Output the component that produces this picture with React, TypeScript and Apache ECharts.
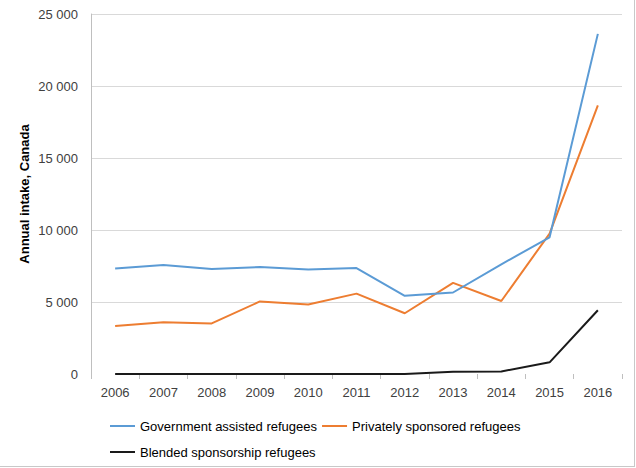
import React, { useEffect, useRef } from "react";
import * as echarts from "echarts";

const years = ["2006", "2007", "2008", "2009", "2010", "2011", "2012", "2013", "2014", "2015", "2016"];
const governmentAssisted = [7330, 7570, 7300, 7430, 7260, 7360, 5430, 5660, 7620, 9490, 23620];
const privatelySponsored = [3340, 3590, 3510, 5040, 4830, 5580, 4220, 6330, 5070, 9750, 18650];
const blendedSponsorship = [0, 0, 0, 0, 0, 0, 0, 150, 180, 810, 4430];
const seriesNames = ["Government assisted refugees", "Privately sponsored refugees", "Blended sponsorship refugees"];

const FONT = "Liberation Sans";

function fmt(v: number): string {
  return String(v).replace(/\B(?=(\d{3})+(?!\d))/g, " ");
}

export default function App() {
  const ref = useRef<HTMLDivElement>(null);
  useEffect(() => {
    if (!ref.current) return;
    const chart = echarts.init(ref.current, undefined, { renderer: "svg" });
    const legendBase = {
      left: 105,
      orient: "horizontal",
      icon: "rect",
      itemWidth: 25,
      itemHeight: 2,
      itemGap: 5,
      textStyle: { color: "#000000", fontSize: 13, fontFamily: FONT },
    };
    chart.setOption({
      animation: false,
      backgroundColor: "#ffffff",
      textStyle: { fontFamily: FONT },
      grid: { left: 91, right: 14, top: 14, bottom: 94, containLabel: false },
      xAxis: {
        type: "category",
        data: years,
        boundaryGap: true,
        axisLine: { show: false },
        axisTick: { show: true, length: 5, lineStyle: { color: "#bfbfbf", width: 1 } },
        axisLabel: { color: "#404040", fontSize: 13, fontFamily: FONT, margin: 12 },
        splitLine: { show: false },
      },
      yAxis: {
        type: "value",
        min: 0,
        max: 25000,
        interval: 5000,
        name: "Annual intake, Canada",
        nameLocation: "middle",
        nameGap: 60,
        nameMoveOverlap: false,
        nameTextStyle: { color: "#000000", fontSize: 13, fontWeight: "bold", fontFamily: FONT },
        axisLine: { show: true, lineStyle: { color: "#bfbfbf", width: 1 } },
        axisTick: { show: false },
        axisLabel: { color: "#404040", fontSize: 13, fontFamily: FONT, margin: 13, formatter: (v: number) => fmt(v) },
        splitLine: { show: true, lineStyle: { color: ["transparent", "#d9d9d9", "#d9d9d9", "#d9d9d9", "#d9d9d9", "#d9d9d9"], width: 1 } },
      },
      legend: [
        { ...legendBase, data: [seriesNames[0], seriesNames[1]], top: 414.5 },
        { ...legendBase, data: [seriesNames[2]], top: 440.5 },
      ],
      graphic: [
        { type: "line", shape: { x1: 634.5, y1: 0, x2: 634.5, y2: 467 }, style: { stroke: "#c8c8c8", lineWidth: 1 } },
        { type: "line", shape: { x1: 0, y1: 466.5, x2: 635, y2: 466.5 }, style: { stroke: "#c8c8c8", lineWidth: 1 } },
      ],
      series: [
        {
          name: seriesNames[0],
          type: "line",
          data: governmentAssisted,
          symbol: "none",
          lineStyle: { color: "#5b9bd5", width: 2 },
          itemStyle: { color: "#5b9bd5" },
          z: 3,
        },
        {
          name: seriesNames[1],
          type: "line",
          data: privatelySponsored,
          symbol: "none",
          lineStyle: { color: "#ed7d31", width: 2 },
          itemStyle: { color: "#ed7d31" },
          z: 2,
        },
        {
          name: seriesNames[2],
          type: "line",
          data: blendedSponsorship,
          symbol: "none",
          lineStyle: { color: "#1a1a1a", width: 2 },
          itemStyle: { color: "#1a1a1a" },
          z: 4,
        },
      ],
    });
    return () => chart.dispose();
  }, []);
  return (
    <div
      ref={ref}
      style={{ position: "fixed", left: 0, top: 0, width: 636, height: 468 }}
    />
  );
}
